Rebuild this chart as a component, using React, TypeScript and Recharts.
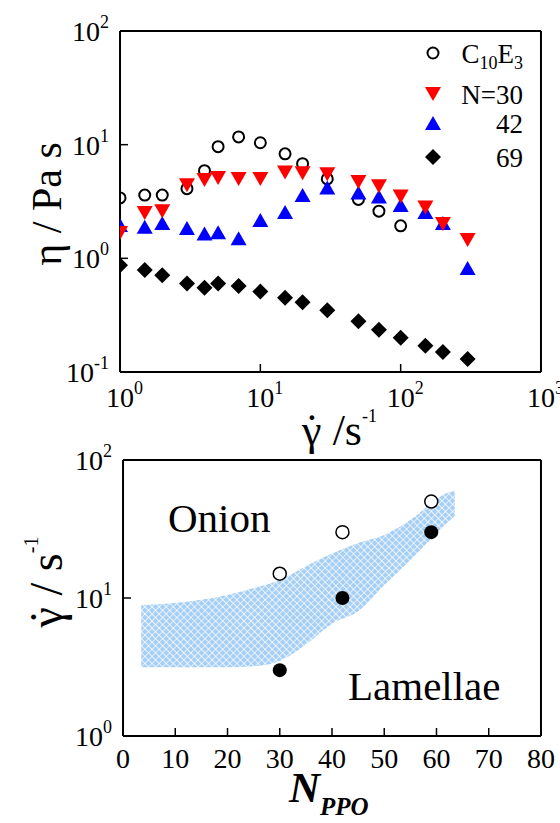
import React from 'react';
import {
  Area,
  ComposedChart,
  Legend,
  Scatter,
  ScatterChart,
  XAxis,
  YAxis,
} from 'recharts';

const SERIF = 'Liberation Serif, Times New Roman, serif';

// top panel: viscosity vs shear rate
const ratesC10E3 = [1, 1.5, 2, 3, 4, 5, 7, 10, 15, 20, 30, 50, 70, 100];
const etaC10E3 = [3.4, 3.6, 3.6, 4.1, 5.9, 9.6, 11.7, 10.4, 8.3, 6.8, 5.0, 3.3, 2.6, 1.93];
const ratesPPO = [1, 1.5, 2, 3, 4, 5, 7, 10, 15, 20, 30, 50, 70, 100, 150, 200, 300];
const etaN30 = [1.67, 2.5, 2.6, 4.4, 4.9, 5.1, 5.0, 5.0, 5.7, 5.6, 5.5, 4.7, 4.3, 3.5, 2.8, 2.0, 1.45];
const etaN42 = [1.96, 1.9, 2.05, 1.85, 1.65, 1.7, 1.5, 2.17, 2.55, 3.6, 4.2, 3.8, 3.5, 2.95, 2.55, 2.05, 0.82];
const etaN69 = [0.87, 0.79, 0.71, 0.6, 0.55, 0.6, 0.57, 0.51, 0.45, 0.41, 0.35, 0.28, 0.235, 0.2, 0.17, 0.15, 0.13];

const rateTicks = [1, 10, 100, 1000];
const rateMinorTicks = [2, 3, 4, 5, 6, 7, 8, 9, 20, 30, 40, 50, 60, 70, 80, 90, 200, 300, 400, 500, 600, 700, 800, 900];
const etaTicks = [0.1, 1, 10, 100];
const etaMinorTicks = [0.2, 0.3, 0.4, 0.5, 0.6, 0.7, 0.8, 0.9, 2, 3, 4, 5, 6, 7, 8, 9, 20, 30, 40, 50, 60, 70, 80, 90];
const legendOrder = ['C10E3', 'N=30', '42', '69'];

// bottom panel: transition rate vs N_PPO
const nPPO = [30, 42, 59];
const onionRate = [15, 30, 50];
const lamellaeRate = [3, 10, 30];
const bandN = [3.5, 10, 20, 25, 30, 35, 40, 45, 50, 55, 58, 62, 63.5];
const bandLow = [3.15, 3.15, 3.15, 3.2, 3.5, 4.6, 6.5, 8.0, 12.4, 18.8, 24.6, 35, 38.6];
const bandHigh = [8.9, 9.2, 10.5, 11.8, 13.5, 17, 21, 25, 28.6, 36.7, 45, 57.6, 60];

const nTicks = [0, 10, 20, 30, 40, 50, 60, 70, 80];
const nMinorTicks = [5, 15, 25, 35, 45, 55, 65, 75];
const gTicks = [1, 10, 100];
const gMinorTicks = [2, 3, 4, 5, 6, 7, 8, 9, 20, 30, 40, 50, 60, 70, 80, 90];

const toRows = (xs: number[], ys: number[]) => xs.map((x, i) => ({ x, y: ys[i] }));
const bandRows = bandN.map((x, i) => ({ x, range: [bandLow[i], bandHigh[i]] }));

// axes are kept (almost) zero-sized so the margins alone set the plot box
const THIN = 0.01;
const AXIS = { stroke: '#000', strokeWidth: 2 };
const TICK = { stroke: '#000', strokeWidth: 1.5 };

const OpenCircle = ({ cx, cy }: any) => (
  <circle cx={cx} cy={cy} r={5.5} fill="none" stroke="#000" strokeWidth={2} />
);
const DownTri = ({ cx, cy, fill }: any) => (
  <polygon points={`${cx - 8},${cy - 7} ${cx + 8},${cy - 7} ${cx},${cy + 7}`} fill={fill} />
);
const UpTri = ({ cx, cy, fill }: any) => (
  <polygon points={`${cx - 8},${cy + 7} ${cx + 8},${cy + 7} ${cx},${cy - 7}`} fill={fill} />
);
const Diamond = ({ cx, cy, fill }: any) => (
  <polygon points={`${cx},${cy - 8} ${cx + 8},${cy} ${cx},${cy + 8} ${cx - 8},${cy}`} fill={fill} />
);
const BigOpen = ({ cx, cy }: any) => (
  <circle cx={cx} cy={cy} r={6.5} fill="#fff" stroke="#000" strokeWidth={1.5} />
);
const BigDot = ({ cx, cy }: any) => <circle cx={cx} cy={cy} r={7} fill="#000" />;

const PowTickBottom = ({ x, y, payload }: any) => (
  <text x={x - 14} y={y + 35} fontFamily={SERIF} fontSize={28} fill="#000">
    10<tspan dy={-13} fontSize={18}>{Math.round(Math.log10(payload.value))}</tspan>
  </text>
);
const PowTickLeft = ({ x, y, payload }: any) => (
  <text x={x - 11} y={y + 10} textAnchor="end" fontFamily={SERIF} fontSize={28} fill="#000">
    10<tspan dy={-13} fontSize={18}>{Math.round(Math.log10(payload.value))}</tspan>
  </text>
);
const NumTick = ({ x, y, payload }: any) => (
  <text x={x} y={y + 32} textAnchor="middle" fontFamily={SERIF} fontSize={28} fill="#000">
    {payload.value}
  </text>
);

// gamma with a dot above it, kept as one text run
const GammaDot = ({ size }: { size: number }) => (
  <>
    γ<tspan dx={-0.6 * size * 0.64}>˙</tspan>
    <tspan dx={0.055 * size}> </tspan>
  </>
);

const legendSymbols: Record<string, any> = {
  C10E3: (cx: number, cy: number) => <OpenCircle cx={cx} cy={cy} />,
  'N=30': (cx: number, cy: number) => <DownTri cx={cx} cy={cy} fill="#ff0000" />,
  '42': (cx: number, cy: number) => <UpTri cx={cx} cy={cy} fill="#0000ff" />,
  '69': (cx: number, cy: number) => <Diamond cx={cx} cy={cy} fill="#000" />,
};
const legendRowY = [23, 64, 93, 127];

const renderLegend = ({ payload }: any) => {
  const items = [...(payload || [])].sort(
    (a: any, b: any) => legendOrder.indexOf(a.value) - legendOrder.indexOf(b.value),
  );
  return (
    <svg width={125} height={150} style={{ overflow: 'visible' }}>
      {items.map((entry: any, i: number) => {
        const cy = legendRowY[i];
        return (
          <g key={entry.value}>
            {legendSymbols[entry.value]?.(18, cy)}
            <text x={108} y={cy + 10} textAnchor="end" fontFamily={SERIF} fontSize={27} fill="#000">
              {entry.value === 'C10E3' ? (
                <>
                  C<tspan dy={6} fontSize={18}>10</tspan>
                  <tspan dy={-6}>E</tspan>
                  <tspan dy={6} fontSize={18}>3</tspan>
                </>
              ) : (
                entry.value
              )}
            </text>
          </g>
        );
      })}
    </svg>
  );
};

const ViscosityChart = () => (
  <ScatterChart width={560} height={440} margin={{ top: 31, right: 19, bottom: 68, left: 120 }}>
    <XAxis xAxisId="x" dataKey="x" type="number" scale="log" domain={[1, 1000]} allowDataOverflow
      ticks={rateTicks} interval={0} height={THIN} tickSize={-8} tickMargin={8}
      tick={PowTickBottom} tickLine={TICK} axisLine={AXIS} />
    <XAxis xAxisId="xm" type="number" scale="log" domain={[1, 1000]} allowDataOverflow
      ticks={rateMinorTicks} interval={0} height={THIN} tickSize={-4} tick={false} tickLine={TICK} axisLine={false} />
    <XAxis xAxisId="xt" orientation="top" type="number" scale="log" domain={[1, 1000]} allowDataOverflow
      ticks={rateTicks} interval={0} height={THIN} tickSize={-8} tick={false} tickLine={TICK} axisLine={AXIS} />
    <XAxis xAxisId="xtm" orientation="top" type="number" scale="log" domain={[1, 1000]} allowDataOverflow
      ticks={rateMinorTicks} interval={0} height={THIN} tickSize={-4} tick={false} tickLine={TICK} axisLine={false} />
    <YAxis yAxisId="y" dataKey="y" type="number" scale="log" domain={[0.1, 100]} allowDataOverflow
      ticks={etaTicks} interval={0} width={THIN} tickSize={-8} tickMargin={8}
      tick={PowTickLeft} tickLine={TICK} axisLine={AXIS} />
    <YAxis yAxisId="ym" type="number" scale="log" domain={[0.1, 100]} allowDataOverflow
      ticks={etaMinorTicks} interval={0} width={THIN} tickSize={-4} tick={false} tickLine={TICK} axisLine={false} />
    <YAxis yAxisId="yr" orientation="right" type="number" scale="log" domain={[0.1, 100]} allowDataOverflow
      ticks={etaTicks} interval={0} width={THIN} tickSize={-8} tick={false} tickLine={TICK} axisLine={AXIS} />
    <YAxis yAxisId="yrm" orientation="right" type="number" scale="log" domain={[0.1, 100]} allowDataOverflow
      ticks={etaMinorTicks} interval={0} width={THIN} tickSize={-4} tick={false} tickLine={TICK} axisLine={false} />
    <Legend layout="vertical" align="center" verticalAlign="middle"
      wrapperStyle={{ left: 415, top: 30, width: 125, height: 150 }} content={renderLegend} />
    <Scatter name="C10E3" xAxisId="x" yAxisId="y" data={toRows(ratesC10E3, etaC10E3)}
      fill="#000" shape={OpenCircle} isAnimationActive={false} />
    <Scatter name="42" xAxisId="x" yAxisId="y" data={toRows(ratesPPO, etaN42)}
      fill="#0000ff" shape={UpTri} isAnimationActive={false} />
    <Scatter name="N=30" xAxisId="x" yAxisId="y" data={toRows(ratesPPO, etaN30)}
      fill="#ff0000" shape={DownTri} isAnimationActive={false} />
    <Scatter name="69" xAxisId="x" yAxisId="y" data={toRows(ratesPPO, etaN69)}
      fill="#000" shape={Diamond} isAnimationActive={false} />
  </ScatterChart>
);

const PhaseChart = () => (
  <ComposedChart width={560} height={383} margin={{ top: 20, right: 19, bottom: 87, left: 123 }}>
    <defs>
      <pattern id="hatch" width="5" height="5" patternUnits="userSpaceOnUse" patternTransform="rotate(45)">
        <rect width="5" height="5" fill="#a6cff5" />
        <path d="M0 0H5M0 0V5" stroke="#ffffff" strokeWidth="1.3" />
      </pattern>
    </defs>
    <XAxis xAxisId="x" dataKey="x" type="number" domain={[0, 80]} allowDataOverflow
      ticks={nTicks} interval={0} height={THIN} tickSize={-8} tickMargin={8}
      tick={NumTick} tickLine={TICK} axisLine={AXIS} />
    <XAxis xAxisId="xm" type="number" domain={[0, 80]} allowDataOverflow
      ticks={nMinorTicks} interval={0} height={THIN} tickSize={-5} tick={false} tickLine={TICK} axisLine={false} />
    <XAxis xAxisId="xt" orientation="top" type="number" domain={[0, 80]} allowDataOverflow
      ticks={nTicks} interval={0} height={THIN} tickSize={-8} tick={false} tickLine={TICK} axisLine={AXIS} />
    <XAxis xAxisId="xtm" orientation="top" type="number" domain={[0, 80]} allowDataOverflow
      ticks={nMinorTicks} interval={0} height={THIN} tickSize={-5} tick={false} tickLine={TICK} axisLine={false} />
    <YAxis yAxisId="y" dataKey="y" type="number" scale="log" domain={[1, 100]} allowDataOverflow
      ticks={gTicks} interval={0} width={THIN} tickSize={-8} tickMargin={8}
      tick={PowTickLeft} tickLine={TICK} axisLine={AXIS} />
    <YAxis yAxisId="ym" type="number" scale="log" domain={[1, 100]} allowDataOverflow
      ticks={gMinorTicks} interval={0} width={THIN} tickSize={-5} tick={false} tickLine={TICK} axisLine={false} />
    <YAxis yAxisId="yr" orientation="right" type="number" scale="log" domain={[1, 100]} allowDataOverflow
      ticks={gTicks} interval={0} width={THIN} tickSize={-8} tick={false} tickLine={TICK} axisLine={AXIS} />
    <YAxis yAxisId="yrm" orientation="right" type="number" scale="log" domain={[1, 100]} allowDataOverflow
      ticks={gMinorTicks} interval={0} width={THIN} tickSize={-5} tick={false} tickLine={TICK} axisLine={false} />
    <Area xAxisId="x" yAxisId="y" data={bandRows} dataKey="range" type="monotone"
      fill="url(#hatch)" fillOpacity={1} stroke="none" dot={false} activeDot={false}
      isAnimationActive={false} />
    <Scatter name="onion" xAxisId="x" yAxisId="y" data={toRows(nPPO, onionRate)}
      shape={BigOpen} isAnimationActive={false} />
    <Scatter name="lamellae" xAxisId="x" yAxisId="y" data={toRows(nPPO, lamellaeRate)}
      shape={BigDot} isAnimationActive={false} />
  </ComposedChart>
);

export default function App() {
  return (
    <div style={{ position: 'absolute', left: 0, top: 0, width: 560, height: 823, background: '#fff' }}>
      <div style={{ position: 'absolute', left: 0, top: 0 }}>
        <ViscosityChart />
      </div>
      <div style={{ position: 'absolute', left: 0, top: 440 }}>
        <PhaseChart />
      </div>
      <svg width={560} height={823} fontFamily={SERIF}
        style={{ position: 'absolute', left: 0, top: 0, pointerEvents: 'none' }}>
        <text transform="translate(61,204) rotate(-90)" textAnchor="middle" fontSize={42} fill="#000">
          η / Pa s
        </text>
        <text x={302} y={445} fontSize={44} fill="#000">
          <GammaDot size={44} />/s<tspan dy={-23} fontSize={18}>-1</tspan>
        </text>
        <text transform="translate(62,582) rotate(-90)" textAnchor="middle" fontSize={46} fill="#000">
          <GammaDot size={46} />/ s<tspan dy={-24} fontSize={20}>-1</tspan>
        </text>
        <text x={168} y={532} fontSize={41} fill="#000">Onion</text>
        <text x={348} y={700} fontSize={41} fill="#000">Lamellae</text>
        <text x={289} y={802} fontSize={43} fontWeight="bold" fontStyle="italic" fill="#000">
          N<tspan dy={13} fontSize={25}>PPO</tspan>
        </text>
      </svg>
    </div>
  );
}
